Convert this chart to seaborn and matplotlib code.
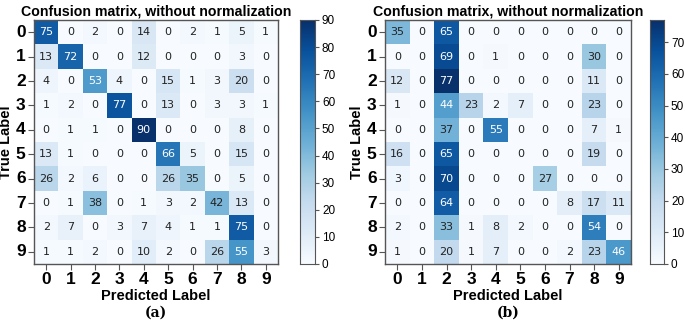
import matplotlib
matplotlib.use("Agg")
import matplotlib.pyplot as plt
import seaborn as sns
import numpy as np

labels = [str(i) for i in range(10)]

# left matrix (a)
cm_a = [
    [75, 0, 2, 0, 14, 0, 2, 1, 5, 1],
    [13, 72, 0, 0, 12, 0, 0, 0, 3, 0],
    [4, 0, 53, 4, 0, 15, 1, 3, 20, 0],
    [1, 2, 0, 77, 0, 13, 0, 3, 3, 1],
    [0, 1, 1, 0, 90, 0, 0, 0, 8, 0],
    [13, 1, 0, 0, 0, 66, 5, 0, 15, 0],
    [26, 2, 6, 0, 0, 26, 35, 0, 5, 0],
    [0, 1, 38, 0, 1, 3, 2, 42, 13, 0],
    [2, 7, 0, 3, 7, 4, 1, 1, 75, 0],
    [1, 1, 2, 0, 10, 2, 0, 26, 55, 3],
]

# right matrix (b)
cm_b = [
    [35, 0, 65, 0, 0, 0, 0, 0, 0, 0],
    [0, 0, 69, 0, 1, 0, 0, 0, 30, 0],
    [12, 0, 77, 0, 0, 0, 0, 0, 11, 0],
    [1, 0, 44, 23, 2, 7, 0, 0, 23, 0],
    [0, 0, 37, 0, 55, 0, 0, 0, 7, 1],
    [16, 0, 65, 0, 0, 0, 0, 0, 19, 0],
    [3, 0, 70, 0, 0, 0, 27, 0, 0, 0],
    [0, 0, 64, 0, 0, 0, 0, 8, 17, 11],
    [2, 0, 33, 1, 8, 2, 0, 0, 54, 0],
    [1, 0, 20, 1, 7, 0, 0, 2, 23, 46],
]

title = "Confusion matrix, without normalization"
sub_labels = ["(a)", "(b)"]

plt.rcParams['font.family'] = ['Liberation Sans', 'DejaVu Sans']

W, H = 685, 325
fig = plt.figure(figsize=(W / 100, H / 100), dpi=100)


def box(x0, y0, x1, y1):
    # pixel box -> figure fraction
    return [x0 / W, 1 - y1 / H, (x1 - x0) / W, (y1 - y0) / H]


panels = [
    (cm_a, box(34, 20, 278, 264), box(300, 20, 315, 264), sub_labels[0]),
    (cm_b, box(385, 20, 631, 264), box(650, 20, 664, 264), sub_labels[1]),
]

for cm, axbox, cbbox, sub in panels:
    data = np.array(cm)
    ax = fig.add_axes(axbox)
    cax = fig.add_axes(cbbox)
    sns.heatmap(data, ax=ax, cbar_ax=cax, cmap="Blues", annot=True, fmt="d",
                vmin=0, vmax=data.max(), xticklabels=labels, yticklabels=labels,
                annot_kws={"fontsize": 8, "family": "DejaVu Sans"})
    # white text on the darker half, like sklearn's plot
    thresh = data.max() / 2
    for t in ax.texts:
        t.set_color("white" if int(t.get_text()) > thresh else "#222222")
    for s in ax.spines.values():
        s.set_visible(True)
        s.set_color("#555555")
        s.set_linewidth(1.0)
    ax.tick_params(axis="both", length=4, width=0.8, color="#555555", pad=2,
                   bottom=True, left=True)
    ax.set_xticklabels(labels, fontsize=12.5, fontweight="bold", rotation=0)
    ax.set_yticklabels(labels, fontsize=12.5, fontweight="bold", rotation=0)
    ax.set_title(title, fontsize=10.2, fontweight="bold", pad=3)
    ax.set_xlabel("Predicted Label", fontsize=10.5, fontweight="bold", labelpad=1)
    ax.set_ylabel("True Label", fontsize=10.5, fontweight="bold", labelpad=2)
    ax.text(0.5, -0.17, sub, transform=ax.transAxes, ha="center", va="top",
            fontsize=10, fontweight="bold", family="DejaVu Serif")
    cax.tick_params(labelsize=8.5, length=3, width=0.8, color="#555555", pad=2)
    for s in cax.spines.values():
        s.set_visible(True)
        s.set_color("#555555")
    cax.yaxis.set_major_locator(matplotlib.ticker.MultipleLocator(10))

fig.savefig("out.png", dpi=100)
